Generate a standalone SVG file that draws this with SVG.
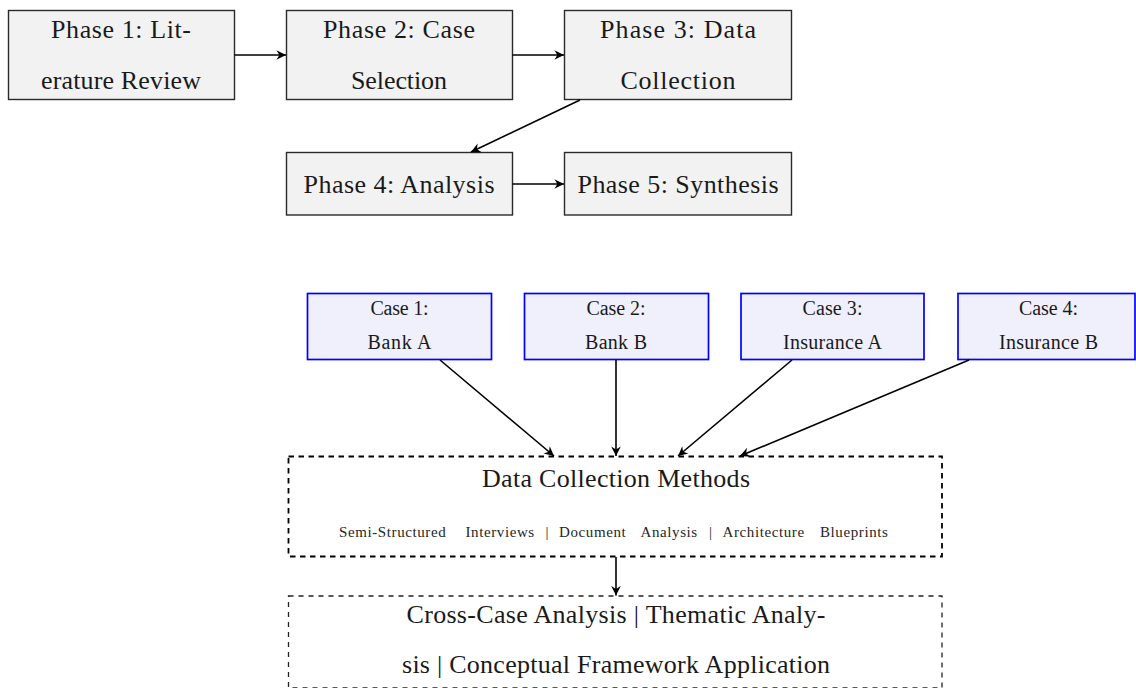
<svg xmlns="http://www.w3.org/2000/svg" width="1136" height="688" viewBox="0 0 1136 688">
  <style>
    .phase rect { fill: #f2f2f2; stroke: #2a2a2a; stroke-width: 1.4; }
    .case rect { fill: #f0f0fc; stroke: #0000ff; stroke-width: 1.7; }
    .methods rect { fill: none; stroke: #000; stroke-width: 1.8; stroke-dasharray: 5.5 4.5; }
    .analysis rect { fill: none; stroke: #222; stroke-width: 1.3; stroke-dasharray: 5 5; }
    text { font-family: "Liberation Serif", "Times New Roman", serif; fill: #1a1a1a; }
    .big { font-size: 26px; text-anchor: middle; }
    .mid { font-size: 20px; text-anchor: middle; }
    .small { font-size: 15px; letter-spacing: 0.6px; fill: #262626; }
    .conn line { stroke: #000; stroke-width: 1.6; fill: none; marker-end: url(#tip); }
  </style>
  <defs>
    <marker id="tip" markerUnits="userSpaceOnUse" markerWidth="12" markerHeight="12" viewBox="-9 -5 10 10" refX="0" refY="0" orient="auto">
      <path d="M0,0 L-8,-4 L-5.5,0 L-8,4 Z" fill="#000"/>
    </marker>
  </defs>

  <!-- research phases -->
  <g id="phase1" class="phase">
    <rect x="8.5" y="10.5" width="226" height="89"/>
    <text class="big" x="121" y="37.5" textLength="140" lengthAdjust="spacing">Phase 1:  Lit-</text>
    <text class="big" x="121" y="89" textLength="160" lengthAdjust="spacing">erature Review</text>
  </g>
  <g id="phase2" class="phase">
    <rect x="286.5" y="10.5" width="226" height="89"/>
    <text class="big" x="399" y="37.5" textLength="152" lengthAdjust="spacing">Phase 2:  Case</text>
    <text class="big" x="399" y="89" textLength="96" lengthAdjust="spacing">Selection</text>
  </g>
  <g id="phase3" class="phase">
    <rect x="564.5" y="10.5" width="227" height="89"/>
    <text class="big" x="678" y="37.5" textLength="156" lengthAdjust="spacing">Phase 3:  Data</text>
    <text class="big" x="678" y="89" textLength="115" lengthAdjust="spacing">Collection</text>
  </g>
  <g id="phase4" class="phase">
    <rect x="286.5" y="152.5" width="226" height="62.5"/>
    <text class="big" x="399" y="193" textLength="191" lengthAdjust="spacing">Phase 4:  Analysis</text>
  </g>
  <g id="phase5" class="phase">
    <rect x="564.5" y="152.5" width="227" height="62.5"/>
    <text class="big" x="678" y="193" textLength="201" lengthAdjust="spacing">Phase 5:  Synthesis</text>
  </g>

  <!-- cases -->
  <g id="case1" class="case">
    <rect x="307.5" y="293.5" width="184" height="66"/>
    <text class="mid" x="399.5" y="315" textLength="58" lengthAdjust="spacing">Case 1:</text>
    <text class="mid" x="399.5" y="349" textLength="64" lengthAdjust="spacing">Bank A</text>
  </g>
  <g id="case2" class="case">
    <rect x="524.5" y="293.5" width="184" height="66"/>
    <text class="mid" x="616" y="315" textLength="59" lengthAdjust="spacing">Case 2:</text>
    <text class="mid" x="616" y="349" textLength="62" lengthAdjust="spacing">Bank B</text>
  </g>
  <g id="case3" class="case">
    <rect x="741" y="293.5" width="183" height="66"/>
    <text class="mid" x="832.5" y="315" textLength="60" lengthAdjust="spacing">Case 3:</text>
    <text class="mid" x="832.5" y="349" textLength="99" lengthAdjust="spacing">Insurance A</text>
  </g>
  <g id="case4" class="case">
    <rect x="958" y="293.5" width="177" height="66"/>
    <text class="mid" x="1048.5" y="315" textLength="59" lengthAdjust="spacing">Case 4:</text>
    <text class="mid" x="1048.5" y="349" textLength="99" lengthAdjust="spacing">Insurance B</text>
  </g>

  <!-- data collection methods -->
  <g id="methods" class="methods">
    <rect x="288.5" y="456.5" width="653.5" height="100"/>
    <text class="big" x="616" y="487" textLength="268" lengthAdjust="spacing">Data Collection Methods</text>
    <text class="small" y="537"><tspan x="339">Semi-Structured</tspan><tspan x="465.5">Interviews</tspan><tspan x="545.5">|</tspan><tspan x="559">Document</tspan><tspan x="640.5">Analysis</tspan><tspan x="709">|</tspan><tspan x="722.5">Architecture</tspan><tspan x="820">Blueprints</tspan></text>
  </g>

  <!-- analysis -->
  <g id="analysis" class="analysis">
    <rect x="288.5" y="596" width="653.5" height="92"/>
    <text class="big" x="616" y="623" textLength="419" lengthAdjust="spacing">Cross-Case Analysis | Thematic Analy-</text>
    <text class="big" x="616" y="673" textLength="428" lengthAdjust="spacing">sis | Conceptual Framework Application</text>
  </g>

  <!-- connectors -->
  <g id="connectors" class="conn">
    <line x1="234.5" y1="55" x2="286" y2="55"/>
    <line x1="512.5" y1="55" x2="564" y2="55"/>
    <line x1="580" y1="100" x2="471" y2="152"/>
    <line x1="512.5" y1="184" x2="564" y2="184"/>
    <line x1="440" y1="360" x2="554" y2="456"/>
    <line x1="616" y1="360" x2="616" y2="456"/>
    <line x1="792" y1="360" x2="678" y2="456"/>
    <line x1="969" y1="360" x2="740" y2="456"/>
    <line x1="616" y1="557" x2="616" y2="595.5"/>
  </g>
</svg>
